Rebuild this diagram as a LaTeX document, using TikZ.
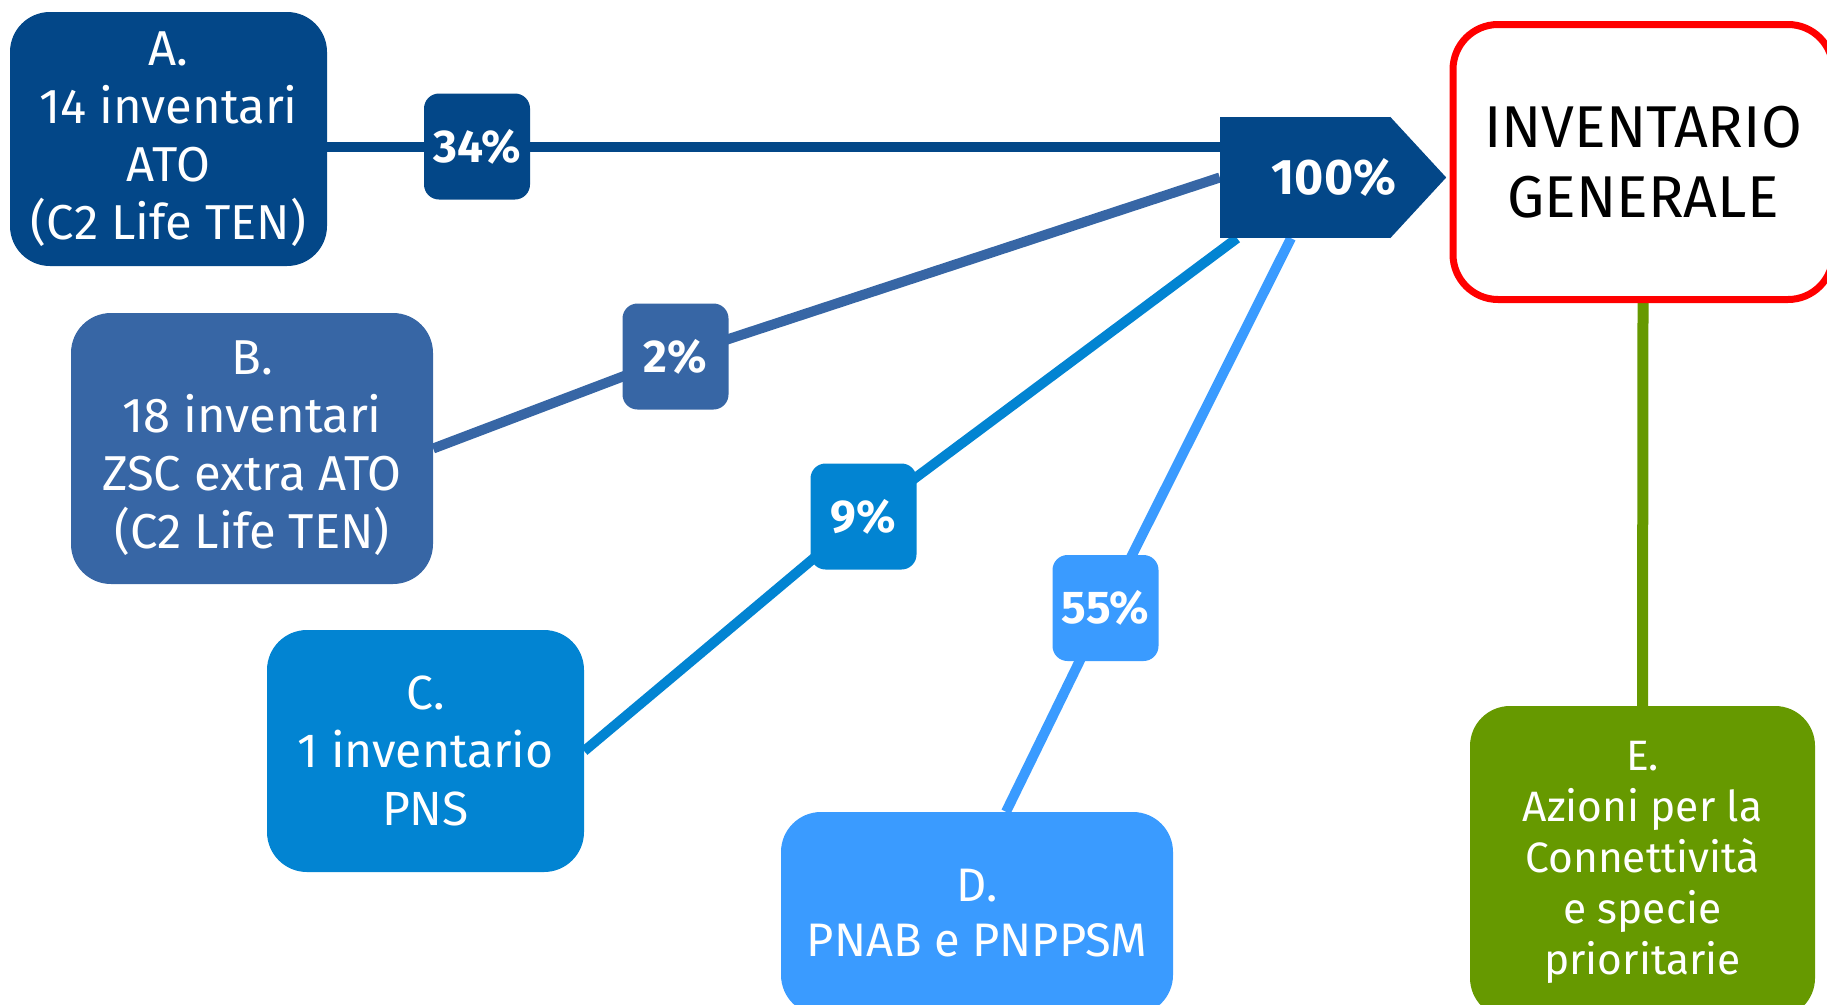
\documentclass[tikz,border=0pt]{standalone}
\usepackage{fontspec}
\setmainfont{Fira Sans}
\usepackage{tikz}
\usetikzlibrary{positioning, backgrounds}
\definecolor{invA}{RGB}{3, 71, 136}
\definecolor{invB}{RGB}{55, 102, 165}
\definecolor{invC}{RGB}{2, 132, 210}
\definecolor{invD}{RGB}{58, 155, 255}
\definecolor{invE}{RGB}{102, 153, 0}
\definecolor{invRed}{RGB}{255, 0, 0}

\begin{document}
\begin{tikzpicture}[x=1pt, y=-1pt,
    box/.style={rounded corners=40pt, text=white, align=center, inner sep=0pt, font=\fontsize{49}{58}\selectfont},
    boxA/.style={box, fill=invA, minimum width=317pt, minimum height=254pt},
    boxB/.style={box, fill=invB, minimum width=362pt, minimum height=271pt},
    boxC/.style={box, fill=invC, minimum width=317pt, minimum height=242pt, font=\fontsize{48}{58}\selectfont},
    boxD/.style={box, fill=invD, minimum width=392pt, minimum height=203pt, font=\fontsize{47}{55}\selectfont},
    boxE/.style={box, fill=invE, minimum width=345pt, minimum height=312pt, font=\fontsize{42.5}{51}\selectfont},
    pct/.style={rounded corners=15pt, minimum size=106pt, inner sep=0pt, text=white, font=\fontsize{46}{50}\selectfont\bfseries},
    total/.style={fill=invA, inner sep=0pt, minimum width=170pt, minimum height=121pt},
    totaltext/.style={text=white, inner sep=0pt, font=\fontsize{50}{50}\selectfont\bfseries},
    general/.style={draw=invRed, line width=7pt, fill=white, rounded corners=45pt, align=center, inner sep=0pt,
        minimum width=380pt, minimum height=275pt, font=\fontsize{59}{70}\selectfont},
    link/.style={line width=10pt}
]
\useasboundingbox (0,0) rectangle (1827,1004);

% Sources
\node[boxA] (A) at (168.5,139) {A.\\14 inventari\\ATO\\(C2 Life TEN)};
\node[boxB] (B) at (252,448.5) {B.\\18 inventari\\ZSC extra ATO\\(C2 Life TEN)};
\node[boxC] (C) at (425.5,751) {C.\\1 inventario\\PNS};
\node[boxD] (D) at (977,913.5) {D.\\PNAB e PNPPSM};

% Target
\node[total] (tot) at (1305,177.5) {};
\fill[invA] (tot.north east) -- ([xshift=56pt]tot.east) -- (tot.south east) -- cycle;
\node[totaltext] (totlabel) at ([xshift=29pt]tot.center) {100\%};
\node[general] (gen) at (1643,162) {INVENTARIO\\GENERALE};
\node[boxE] (E) at (1642.5,862) {E.\\Azioni per la\\Connettività\\e specie\\prioritarie};

% Shares
\node[pct, fill=invA] (pA) at (477,146.5) {34\%};
\node[pct, fill=invB] (pB) at (675.5,356.5) {2\%};
\node[pct, fill=invC] (pC) at (863.5,516.5) {9\%};
\node[pct, fill=invD] (pD) at (1105.5,608) {55\%};

% Links
\begin{scope}[on background layer]
    \draw[link, invA] (pA -| A.east) -- (pA -| tot.west);
    \draw[link, invB] (B.east) -- (pB.center) -- (tot.west);
    \draw[link, invC] (C.east) -- (pC.center) -- ([xshift=-68pt]tot.south);
    \draw[link, invD] ([xshift=29pt]D.north) -- (pD.center) -- ([xshift=-14pt]tot.south);
    \draw[line width=11pt, invE] (gen.south) -- (E.north);
\end{scope}

\end{tikzpicture}
\end{document}
